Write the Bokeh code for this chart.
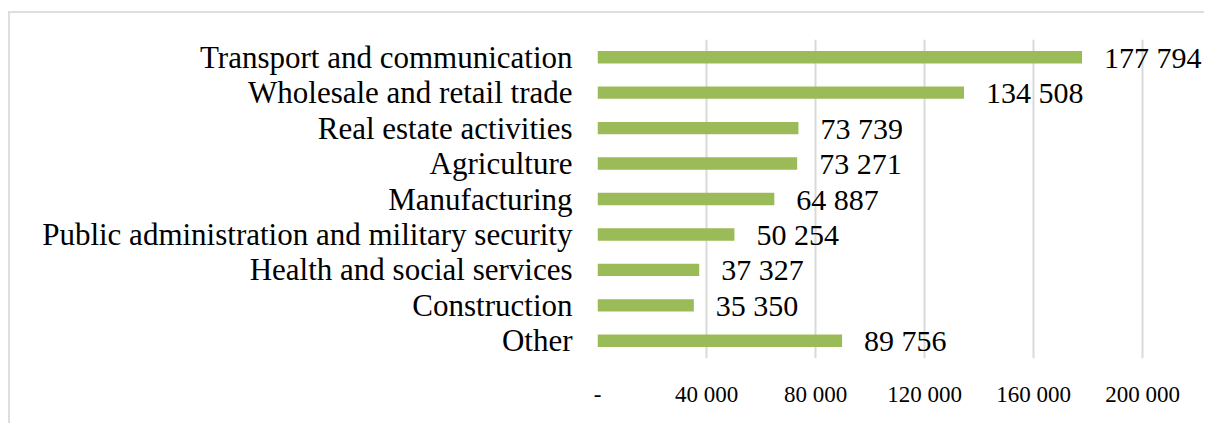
from bokeh.plotting import figure
from bokeh.models import ColumnDataSource, FixedTicker, LabelSet, Range1d, FactorRange
from bokeh.embed import file_html
from bokeh.resources import INLINE

categories = [
    "Transport and communication",
    "Wholesale and retail trade",
    "Real estate activities",
    "Agriculture",
    "Manufacturing",
    "Public administration and military security",
    "Health and social services",
    "Construction",
    "Other",
]
values = [177794, 134508, 73739, 73271, 64887, 50254, 37327, 35350, 89756]
value_labels = ["177 794", "134 508", "73 739", "73 271", "64 887", "50 254", "37 327", "35 350", "89 756"]
tick_values = [0, 40000, 80000, 120000, 160000, 200000]
tick_labels = ["-", "40 000", "80 000", "120 000", "160 000", "200 000"]

FONT = "Liberation Serif"

src = ColumnDataSource(dict(cat=categories, val=values, lab=value_labels))

p = figure(
    width=1196, height=412,
    y_range=FactorRange(*categories[::-1]),
    x_range=Range1d(0, 222750),
    output_backend="svg", toolbar_location=None,
    min_border_left=589, min_border_right=0, min_border_top=28, min_border_bottom=65,
)
p.styles = {"margin-left": "8px", "margin-top": "11px",
            "box-shadow": "inset 2px 2px 0 0 #dedede"}
p.outline_line_color = None
p.background_fill_color = "white"
p.border_fill_color = None

p.hbar(y="cat", right="val", left=0, height=0.35, source=src,
       fill_color="#9BBB59", line_color=None)

labels = LabelSet(x="val", y="cat", text="lab", source=src, x_offset=22,
                  text_baseline="middle", text_align="left",
                  text_font=FONT, text_font_size="30px", text_color="black")
p.add_layout(labels)

# x axis
p.xaxis.ticker = FixedTicker(ticks=tick_values)
p.xaxis.major_label_overrides = {v: l for v, l in zip(tick_values, tick_labels)}
p.xaxis.axis_line_color = None
p.xaxis.major_tick_line_color = None
p.xaxis.minor_tick_line_color = None
p.xaxis.major_tick_out = 0
p.xaxis.major_tick_in = 0
p.xaxis.minor_tick_out = 0
p.xaxis.major_label_standoff = 23
p.xaxis.major_label_text_font = FONT
p.xaxis.major_label_text_font_size = "23px"
p.xaxis.major_label_text_color = "black"

# y axis
p.yaxis.axis_line_color = None
p.yaxis.major_tick_line_color = None
p.yaxis.minor_tick_line_color = None
p.yaxis.major_tick_out = 0
p.yaxis.major_tick_in = 0
p.yaxis.minor_tick_out = 0
p.yaxis.major_label_standoff = 25
p.yaxis.major_label_text_font = FONT
p.yaxis.major_label_text_font_size = "31px"
p.yaxis.major_label_text_color = "black"

p.xgrid.ticker = FixedTicker(ticks=tick_values)
p.xgrid.grid_line_color = "#d9d9d9"
p.xgrid.grid_line_width = 2
p.ygrid.grid_line_color = None

open("out.html", "w").write(file_html(p, INLINE))
